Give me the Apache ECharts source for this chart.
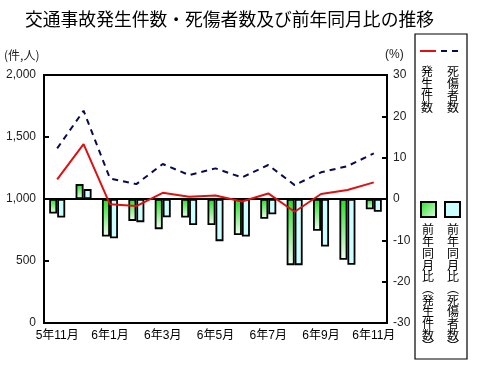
<!DOCTYPE html>
<html><head><meta charset="utf-8">
<script src="https://cdn.jsdelivr.net/npm/echarts@6/dist/echarts.min.js"></script>
<style>html,body{margin:0;padding:0;background:#fff}#c{width:480px;height:367px}</style>
</head><body><div id="c"></div>
<script>
const categories = ['5年11月','5年12月','6年1月','6年2月','6年3月','6年4月','6年5月','6年6月','6年7月','6年8月','6年9月','6年10月','6年11月'];
const accidents = [1158,1443,957,943,1050,1018,1029,980,1045,897,1040,1072,1134];
const casualties = [1408,1712,1166,1120,1282,1193,1247,1174,1274,1112,1215,1265,1368];
const accidentsYoY = [-3.5,3.6,-9.1,-5.3,-7.3,-4.5,-6.3,-8.7,-4.8,-16.0,-7.7,-14.7,-2.5];
const casualtiesYoY = [-4.5,2.4,-9.5,-5.6,-4.4,-6.3,-10.2,-9.1,-3.7,-16.0,-11.5,-15.9,-3.1];
const leftTicks = [0,500,1000,1500,2000];
const rightTicks = [-30,-20,-10,0,10,20,30];

const FONT = "'Liberation Sans','Noto Sans CJK JP',sans-serif";
const JP = "'Noto Sans CJK JP',sans-serif";
const greenGrad = new echarts.graphic.LinearGradient(0,0,0,1,[{offset:0,color:'#22dd22'},{offset:1,color:'#f4fff4'}]);
const vert = s => s.split('').join('\n');

const chart = echarts.init(document.getElementById('c'), null, {renderer:'canvas'});
chart.setOption({
  animation:false,
  backgroundColor:'#fff',
  textStyle:{fontFamily:FONT},
  title:{text:'交通事故発生件数・死傷者数及び前年同月比の推移',left:20,top:5,
    textStyle:{fontFamily:JP,fontSize:17.8,fontWeight:'normal',color:'#000'}},
  grid:{left:44,right:93,top:75,bottom:44,show:true,borderColor:'#000',borderWidth:2,backgroundColor:'transparent'},
  xAxis:{type:'category',data:categories,boundaryGap:true,
    axisLine:{lineStyle:{color:'#000',width:2}},
    axisTick:{alignWithLabel:true,interval:0,length:4,lineStyle:{color:'#000',width:1.5}},
    axisLabel:{interval:1,color:'#000',fontSize:12,margin:7,fontFamily:FONT},
    splitLine:{show:false}},
  yAxis:[
    {type:'value',min:leftTicks[0],max:leftTicks[leftTicks.length-1],interval:500,
     axisLine:{show:true,lineStyle:{color:'#000',width:2}},
     axisTick:{show:true,inside:true,length:5,lineStyle:{color:'#000',width:2}},
     axisLabel:{color:'#222',fontSize:12,margin:8,formatter:v=>v.toLocaleString('en-US')},
     splitLine:{show:false}},
    {type:'value',min:rightTicks[0],max:rightTicks[rightTicks.length-1],interval:10,
     axisLine:{show:true,lineStyle:{color:'#000',width:2}},
     axisTick:{show:true,inside:true,length:5,lineStyle:{color:'#000',width:2}},
     axisLabel:{color:'#222',fontSize:12,margin:6},
     splitLine:{show:false}}
  ],
  series:[
    {name:'前年同月比(発生件数)',type:'bar',yAxisIndex:1,data:accidentsYoY,barWidth:8,barGap:'0%',
     itemStyle:{color:greenGrad,borderColor:'#000',borderWidth:1.8},z:2,
     markLine:{silent:true,symbol:'none',label:{show:false},lineStyle:{color:'#000',width:2,type:'solid'},data:[{yAxis:0}]}},
    {name:'前年同月比(死傷者数)',type:'bar',yAxisIndex:1,data:casualtiesYoY,barWidth:8,
     itemStyle:{color:'#ccffff',borderColor:'#000',borderWidth:1.8},z:2},
    {name:'死傷者数',type:'line',yAxisIndex:0,data:casualties,symbol:'none',
     lineStyle:{color:'#0a0a50',width:2,type:[6,5]},z:4},
    {name:'発生件数',type:'line',yAxisIndex:0,data:accidents,symbol:'none',
     lineStyle:{color:'#dd1111',width:2},z:5}
  ],
  graphic:[
    {type:'text',x:4,y:55,style:{text:'(件,人)',font:"12px "+JP,fill:'#222',align:'left',verticalAlign:'middle'},z:10},
    {type:'text',x:385,y:55,style:{text:'(%)',font:"12px "+FONT,fill:'#222',align:'left',verticalAlign:'middle'},z:10},
    {type:'rect',shape:{x:415,y:34,width:52,height:325},style:{fill:'none',stroke:'#000',lineWidth:1.2},z:10},
    {type:'line',shape:{x1:420,y1:51,x2:436,y2:51},style:{stroke:'#dd1111',lineWidth:2},z:10},
    {type:'line',shape:{x1:441,y1:51,x2:463,y2:51},style:{stroke:'#0a0a50',lineWidth:2,lineDash:[6,5]},z:10},
    {type:'text',x:427,y:65,style:{text:vert('発生件数'),font:"12px "+JP,fill:'#000',align:'center',lineHeight:12},z:10},
    {type:'text',x:453,y:65,style:{text:vert('死傷者数'),font:"12px "+JP,fill:'#000',align:'center',lineHeight:12},z:10},
    {type:'rect',shape:{x:421,y:202,width:15,height:15},style:{fill:new echarts.graphic.LinearGradient(0,0,1,1,[{offset:0,color:'#22dd22'},{offset:1,color:'#e8ffe8'}]),stroke:'#000',lineWidth:2},z:10},
    {type:'rect',shape:{x:445,y:202,width:15,height:15},style:{fill:'#ccffff',stroke:'#000',lineWidth:2},z:10},
    {type:'text',x:428,y:224,style:{text:vert('前年同月比︵発生件数︶'),font:"12px "+JP,fill:'#000',align:'center',lineHeight:11.7},z:10},
    {type:'text',x:453,y:224,style:{text:vert('前年同月比︵死傷者数︶'),font:"12px "+JP,fill:'#000',align:'center',lineHeight:11.7},z:10}
  ]
});
</script></body></html>
